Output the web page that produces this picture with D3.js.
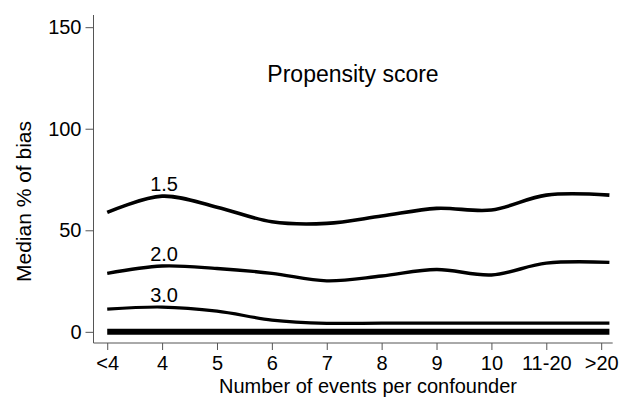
<!DOCTYPE html>
<html>
<head>
<meta charset="utf-8">
<script src="https://cdn.jsdelivr.net/npm/d3@7/dist/d3.min.js"></script>
<style>
  html, body { margin: 0; padding: 0; background: #fff; }
  svg { display: block; }
  text { font-family: "Liberation Sans", Arial, sans-serif; fill: #000; }
</style>
</head>
<body>
<svg id="chart" width="626" height="398"></svg>
<script>
// ---- data ----
const categories = ["<4", "4", "5", "6", "7", "8", "9", "10", "11-20", ">20"];
const curveX = [0, 1, 2, 3, 4, 5, 6, 7, 8, 9.15];   // category positions of curve samples
const series15 = [58.8, 66.8, 61.4, 54.2, 53.4, 57.0, 60.8, 60.0, 67.3, 67.3];
const series20 = [28.8, 32.4, 31.2, 28.8, 25.1, 27.5, 30.7, 28.0, 33.8, 34.2];
const series30 = [11.2, 12.2, 10.2, 5.8, 4.2, 4.3, 4.3, 4.3, 4.3, 4.3];
const series10 = [0, 0, 0, 0, 0, 0, 0, 0, 0, 0];
const yTicks = [0, 50, 100, 150];
const seriesLabels = ["1.5", "2.0", "3.0", ""];

const svg = d3.select("#chart");

const x = d3.scaleLinear().domain([-0.25, 9.21]).range([93.5, 612.7]);
const y = d3.scaleLinear().domain([-5.5, 156]).range([343, 15]);

// axes
const yAxis = d3.axisLeft(y).tickValues(yTicks).tickSize(8).tickPadding(4).tickFormat(d3.format("d"));
const gy = svg.append("g").attr("transform", `translate(${x(-0.25)},0)`).call(yAxis);
gy.select(".domain").attr("d", `M0,${y(156)}V${y(-5.5)}`).attr("stroke", "#555");
gy.selectAll(".tick line").attr("stroke", "#555");
gy.selectAll(".tick text")
  .style("font-size", "20px")
  .style("font-family", '"Liberation Sans", Arial, sans-serif')
  .attr("fill", "#000");

const xAxis = d3.axisBottom(x)
  .tickValues(d3.range(categories.length))
  .tickFormat(i => categories[i])
  .tickSize(7).tickPadding(6);
const gx = svg.append("g").attr("transform", `translate(0,${y(-5.5)})`).call(xAxis);
gx.select(".domain").attr("d", `M${x(-0.25)},0H${x(9.21)}`).attr("stroke", "#555");
gx.selectAll(".tick line").attr("stroke", "#555");
gx.selectAll(".tick text")
  .style("font-size", "20px")
  .style("font-family", '"Liberation Sans", Arial, sans-serif')
  .attr("fill", "#000");

// curves
const line = d3.line()
  .x((d, i) => x(curveX[i]))
  .y(d => y(d))
  .curve(d3.curveCatmullRom.alpha(0.5));

const allSeries = [
  { v: series15, w: 3.6, label: seriesLabels[0] },
  { v: series20, w: 3.4, label: seriesLabels[1] },
  { v: series30, w: 3.2, label: seriesLabels[2] },
  { v: series10, w: 6, label: seriesLabels[3] }
];

allSeries.forEach(s => {
  svg.append("path")
    .attr("d", line(s.v))
    .attr("fill", "none")
    .attr("stroke", "#000")
    .attr("stroke-width", s.w);
  if (s.label) {
    svg.append("text")
      .attr("x", x(1) + 2)
      .attr("y", y(s.v[1]) - 5)
      .attr("text-anchor", "middle")
      .style("font-size", "20px")
      .text(s.label);
  }
});

// titles
svg.append("text")
  .attr("x", 353).attr("y", 82)
  .attr("text-anchor", "middle")
  .style("font-size", "23px")
  .text("Propensity score");

svg.append("text")
  .attr("x", 368).attr("y", 393)
  .attr("text-anchor", "middle")
  .style("font-size", "20px")
  .text("Number of events per confounder");

svg.append("text")
  .attr("transform", "translate(31,201.5) rotate(-90)")
  .attr("text-anchor", "middle")
  .style("font-size", "21px")
  .text("Median % of bias");
</script>
</body>
</html>
